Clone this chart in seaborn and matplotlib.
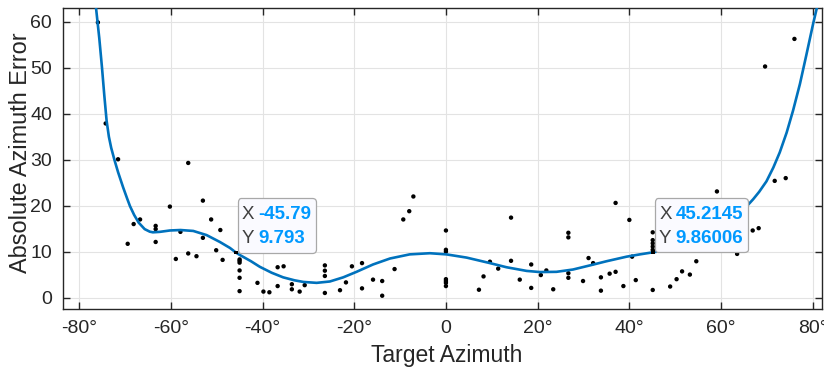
import numpy as np
import pandas as pd
import matplotlib
matplotlib.use("Agg")
import matplotlib.pyplot as plt
import seaborn as sns
from matplotlib.offsetbox import TextArea, HPacker, VPacker, AnnotationBbox, DrawingArea

# ---- data ----
target_az = [
    -75.9, -74.2, -71.5, -56.2, -53.0, -60.2, -66.7, -68.1, -63.3, -63.3,
    -51.2, -49.2, -57.9, -53.0, -69.4, -63.3, -50.1, -58.9, -56.2, -54.4,
    -48.7, -45.0, -45.0, -45.0, -45.0, -45.0, -45.0, -41.1, -39.8, -38.5,
    -36.7, -35.4, -36.7, -33.6, -33.6, -31.9, -30.8, -26.4, -26.4, -26.4,
    -26.4, -23.1, -21.8, -20.5, -18.3, -18.3, -15.9, -13.9, -13.9, -11.2,
    -9.3, -8.0, -7.1, 0.0, 0.0, 0.0, 0.0, 0.0, 0.0, 0.0,
    7.2, 8.2, 9.6, 11.4, 14.2, 14.2, 16.1, 18.6, 18.6, 20.7,
    21.9, 23.4, 26.7, 26.7, 26.7, 26.7, 29.9, 31.1, 32.1, 33.8,
    33.8, 35.7, 37.0, 37.0, 38.7, 40.0, 40.6, 41.4, 45.1, 45.1,
    45.1, 45.1, 45.1, 45.1, 48.9, 50.3, 51.5, 53.2, 54.6, 59.1,
    63.5, 66.9, 68.2, 69.6, 71.7, 74.1, 76.0,
]
abs_error = [
    59.9, 37.9, 30.1, 29.3, 21.1, 19.8, 17.0, 16.0, 15.6, 14.9,
    17.0, 14.7, 14.3, 13.0, 11.7, 12.1, 10.3, 8.4, 9.6, 9.0,
    8.2, 8.3, 8.0, 7.6, 5.9, 4.3, 1.4, 3.2, 1.3, 1.15,
    6.6, 6.8, 2.5, 2.9, 1.8, 1.3, 2.7, 7.0, 5.85, 4.7,
    1.0, 1.6, 3.3, 6.8, 7.5, 2.0, 3.9, 3.6, 0.4, 6.2,
    17.0, 18.8, 22.0, 14.6, 10.4, 10.0, 4.0, 3.6, 3.2, 2.5,
    1.7, 4.6, 7.8, 6.3, 17.4, 8.0, 3.9, 7.2, 2.1, 4.9,
    5.9, 1.8, 14.1, 13.1, 5.3, 4.3, 3.6, 8.6, 7.5, 4.4,
    1.5, 5.2, 20.6, 5.6, 2.5, 16.9, 8.9, 3.8, 1.65, 14.2,
    12.5, 11.8, 11.1, 10.4, 2.4, 4.0, 5.7, 5.0, 7.9, 23.1,
    9.5, 14.6, 15.1, 50.3, 25.4, 26.0, 56.3,
]

# fitted curve
curve_x = [-76.7, -76.3, -75.6, -75.0, -74.5, -74.0, -73.5, -73.0, -72.3, -71.5,
           -70.4, -69.5, -68.9, -68.0, -67.0, -65.7, -64.6, -63.9, -62.4, -60.2,
           -57.9, -55.1, -52.2, -49.3, -47.1, -45.79, -45.0, -42.5, -40.6, -38.0,
           -35.5, -33.0, -31.1, -28.2, -25.3, -22.4, -19.5, -15.9, -12.2, -7.9,
           -3.5, 0.1, 4.5, 9.6, 13.2, 17.6, 20.5, 24.1, 27.7, 31.4,
           35.0, 39.4, 42.3, 45.2145, 48.0, 51.0, 54.0, 57.0, 60.0, 63.0,
           65.9, 67.0, 68.3, 69.9, 71.4, 72.8, 74.3, 75.7, 77.2, 78.6,
           80.1, 81.0, 82.0]
curve_y = [67.0, 63.0, 56.5, 50.0, 44.0, 38.5, 35.0, 32.6, 30.0, 27.3,
           24.0, 21.5, 19.9, 18.0, 16.3, 14.9, 14.35, 14.2, 14.3, 14.6,
           14.7, 14.5, 13.6, 12.1, 10.8, 9.793, 9.3, 7.9, 6.7, 5.4,
           4.4, 3.75, 3.4, 3.2, 3.5, 4.4, 5.6, 7.2, 8.5, 9.4,
           9.65, 9.4, 8.7, 7.5, 6.6, 5.8, 5.55, 5.6, 6.1, 7.0,
           7.9, 8.9, 9.4, 9.86006, 10.3, 11.0, 12.0, 13.3, 15.0, 17.3,
           20.2, 21.4, 23.0, 25.3, 28.3, 31.6, 35.9, 40.7, 46.5, 52.8,
           59.7, 63.5, 68.0]

# data tips
tip_x = [-45.79, 45.2145]
tip_y = [9.793, 9.86006]
tip_x_text = ["-45.79", "45.2145"]
tip_y_text = ["9.793", "9.86006"]

x_ticks = [-80, -60, -40, -20, 0, 20, 40, 60, 80]
x_tick_labels = ["-80°", "-60°", "-40°", "-20°", "0", "20°", "40°", "60°", "80°"]
y_ticks = [0, 10, 20, 30, 40, 50, 60]

sns.set_theme(style="white")
plt.rcParams["font.family"] = ["Liberation Sans", "DejaVu Sans"]

fig = plt.figure(figsize=(8.24, 3.70), dpi=100)
ax = fig.add_axes([0.0765, 0.166, 0.921, 0.812])

df = pd.DataFrame({"az": target_az, "err": abs_error})
cdf = pd.DataFrame({"az": curve_x, "err": curve_y})

sns.scatterplot(data=df, x="az", y="err", ax=ax, color="black", s=10,
                edgecolor="none", zorder=3)
sns.lineplot(data=cdf, x="az", y="err", ax=ax, color="#0072BD", lw=1.9,
             sort=False, estimator=None, zorder=4)
sns.scatterplot(x=tip_x, y=tip_y, ax=ax, color="black", marker="s", s=7,
                edgecolor="none", zorder=5)

for tx, ty, sx, sy in zip(tip_x, tip_y, tip_x_text, tip_y_text):
    fs = 13.5
    lab = dict(color="#404040", fontsize=fs)
    val = dict(color="#0099FF", fontsize=fs, fontweight="bold")
    row1 = HPacker(children=[TextArea("X", textprops=lab), TextArea(sx, textprops=val)],
                   sep=3, pad=0, align="baseline")
    row2 = HPacker(children=[TextArea("Y", textprops=lab), TextArea(sy, textprops=val)],
                   sep=3, pad=0, align="baseline")
    inner = VPacker(children=[DrawingArea(1, 2.5), row1, DrawingArea(1, 5.0), row2,
                              DrawingArea(1, 1.0)], sep=0, pad=0, align="left")
    ab = AnnotationBbox(inner, (tx, ty), xybox=(4.2, 3.0), xycoords="data",
                        boxcoords="offset points", box_alignment=(0, 0),
                        frameon=True, pad=0.3, fontsize=10,
                        bboxprops=dict(boxstyle="round,pad=0.3,rounding_size=0.25",
                                       fc="#fafaff", ec="#a8a8a8", lw=0.9))
    ab.set_zorder(6)
    ax.add_artist(ab)

ax.set_xlim(-83.5, 82)
ax.set_ylim(-2.4, 63)
ax.set_xticks(x_ticks)
ax.set_xticklabels(x_tick_labels)
ax.set_yticks(y_ticks)
ax.grid(True, color="#e3e3e3", lw=0.8)
ax.set_axisbelow(True)
ax.tick_params(direction="in", length=5, width=1, colors="#262626", labelsize=14,
               top=True, right=True, bottom=True, left=True, pad=8)
for s in ax.spines.values():
    s.set_color("#262626")
    s.set_linewidth(1)
ax.set_xlabel("Target Azimuth", fontsize=16.5, color="#262626", labelpad=5, x=0.505)
ax.set_ylabel("Absolute Azimuth Error", fontsize=16.9, color="#262626", labelpad=-1.5,
              y=0.519)

fig.savefig("out.png", dpi=100)
